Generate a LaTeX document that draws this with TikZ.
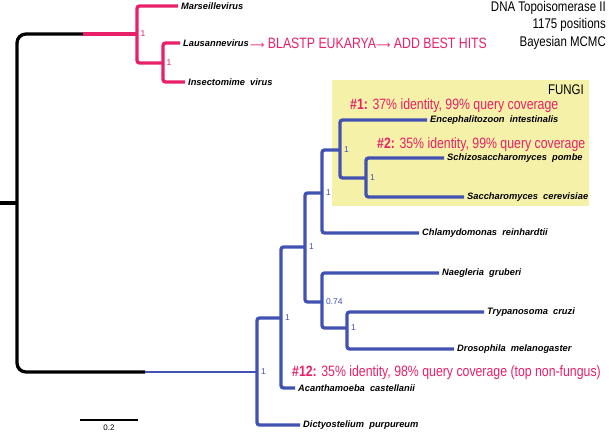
\documentclass[tikz,border=0pt]{standalone}
\usepackage{fontspec}
\setmainfont{Liberation Sans}
\newfontfamily\narrowfont[FakeStretch=0.82]{Liberation Sans}
\newfontfamily\arrowfont{DejaVu Sans}
\definecolor{tpink}{HTML}{E8206A}
\definecolor{tblue}{HTML}{4152B3}
\definecolor{fungibg}{HTML}{F6F1A8}
\newcommand{\longarr}{{\arrowfont\fontsize{10}{12}\selectfont ⟶}}
\begin{document}
\begin{tikzpicture}[x=1pt,y=-1pt,
  br/.style={line width=3.3pt, rounded corners=2.5pt},
  pinkbr/.style={br, draw=tpink},
  bluebr/.style={br, draw=tblue},
  leaf/.style={anchor=west, inner xsep=3pt, inner ysep=0pt, font=\fontsize{9.3}{10}\selectfont\bfseries\itshape},
  support/.style={anchor=west, inner sep=0pt, font=\fontsize{8.5}{9}\selectfont},
  annot/.style={anchor=west, inner sep=0pt, text=tpink, font=\narrowfont\fontsize{15}{17}\selectfont},
  header/.style={anchor=east, inner sep=0pt, font=\narrowfont\fontsize{14}{16}\selectfont},
]
\useasboundingbox (0,0) rectangle (609,433);
% fungi box
\fill[fungibg] (332,80) rectangle (589,206);
\node[header] (fungi) at (584,90) {FUNGI};
% header
\node[header] (h1) at (606,8) {DNA Topoisomerase II};
\node[header] (h2) at (606,25) {1175 positions};
\node[header] (h3) at (606,43) {Bayesian MCMC};
% coordinates
\coordinate (R0) at (0,203);
\coordinate (R) at (17,203);
\coordinate (rtop) at (17,34);
\coordinate (rbot) at (17,372);
\coordinate (rtopend) at (83,34);
\coordinate (rbotend) at (145,372);
\coordinate (V) at (137,34);
\coordinate (V2) at (163,63);
\coordinate (A) at (257,372);
\coordinate (B) at (281,318);
\coordinate (C) at (305,247);
\coordinate (F) at (322,193);
\coordinate (G) at (340,150);
\coordinate (H) at (366,178);
\coordinate (D) at (322,302);
\coordinate (E) at (347,328);
% leaves
\node[leaf] (mars) at (178,6) {Marseillevirus};
\node[leaf] (laus) at (180,43) {Lausannevirus};
\node[leaf] (insect) at (185,82) {Insectomime\ \ virus};
\node[leaf] (encep) at (427,120) {Encephalitozoon\ \ intestinalis};
\node[leaf] (schizo) at (444,158) {Schizosaccharomyces\ \ pombe};
\node[leaf] (sacch) at (464,197) {Saccharomyces\ \ cerevisiae};
\node[leaf] (chlamy) at (419,233) {Chlamydomonas\ \ reinhardtii};
\node[leaf] (naeg) at (439,273) {Naegleria\ \ gruberi};
\node[leaf] (tryp) at (484,312) {Trypanosoma\ \ cruzi};
\node[leaf] (droso) at (454,349) {Drosophila\ \ melanogaster};
\node[leaf] (acanth) at (295,388) {Acanthamoeba\ \ castellanii};
\node[leaf] (dicty) at (300,425) {Dictyostelium\ \ purpureum};
% root
\draw[line width=3.3pt] (R0) -- (R);
\draw[line width=3.3pt, rounded corners=9pt] (rtopend) -- (rtop) -- (rbot) -- (rbotend);
% viruses
\draw[pinkbr] (rtopend) -- (V);
\draw[pinkbr] (mars.west) -| (V) |- (V2);
\draw[pinkbr] (laus.west) -| (V2) |- (insect.west);
% eukaryotes
\draw[tblue, line width=1.9pt] (rbotend) -- (A);
\draw[bluebr] (B) -| (A) |- (dicty.west);
\draw[bluebr] (C) -| (B) |- (acanth.west);
\draw[bluebr] (F) -| (C) |- (D);
\draw[bluebr] (G) -| (F) |- (chlamy.west);
\draw[bluebr] (encep.west) -| (G) |- (H);
\draw[bluebr] (schizo.west) -| (H) |- (sacch.west);
\draw[bluebr] (naeg.west) -| (D) |- (E);
\draw[bluebr] (tryp.west) -| (E) |- (droso.west);
% support values
\node[support, text=tpink] (sV) at ([xshift=3.5pt]V) {1};
\node[support, text=tpink] (sV2) at ([xshift=3.5pt]V2) {1};
\node[support, text=tblue] (sA) at ([xshift=3.8pt]A) {1};
\node[support, text=tblue] (sB) at ([xshift=3.8pt]B) {1};
\node[support, text=tblue] (sC) at ([xshift=3.8pt]C) {1};
\node[support, text=tblue] (sF) at ([xshift=3.8pt]F) {1};
\node[support, text=tblue] (sG) at ([xshift=3.8pt]G) {1};
\node[support, text=tblue] (sH) at ([xshift=3.8pt]H) {1};
\node[support, text=tblue] (sD) at ([xshift=3.8pt]D) {0.74};
\node[support, text=tblue] (sE) at ([xshift=3.8pt]E) {1};
% annotations
\node[annot] (blast) at (250,43) {\longarr{} BLASTP EUKARYA\longarr{} ADD BEST HITS};
\node[annot] (a1) at (350,106) {{\bfseries\#1:} 37\% identity, 99\% query coverage};
\node[annot] (a2) at (377,145) {{\bfseries\#2:} 35\% identity, 99\% query coverage};
\node[annot] (a12) at (292,373) {{\bfseries\#12:} 35\% identity, 98\% query coverage (top non-fungus)};
% scale bar
\coordinate (sb1) at (80,420);
\coordinate (sb2) at (138,420);
\draw[line width=2.5pt] (sb1) -- (sb2);
\node[inner sep=0pt, font=\fontsize{8}{9}\selectfont] (sbl) at (109,428) {0.2};
\end{tikzpicture}
\end{document}
